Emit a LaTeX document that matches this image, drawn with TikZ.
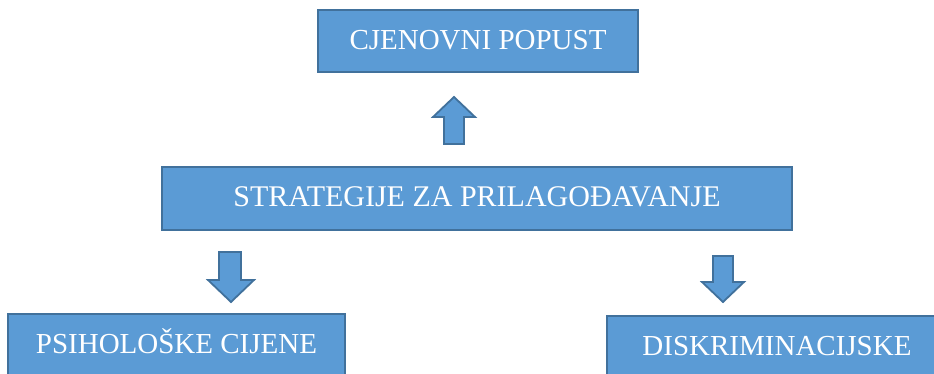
\documentclass[tikz,border=0pt]{standalone}
\usepackage{fontspec}
\setmainfont{Liberation Serif}
\definecolor{plava}{HTML}{5B9BD5}
\definecolor{rub}{HTML}{41719C}
\tikzset{
	kutija/.style={draw=rub, fill=plava, line width=2.5pt, text=white, inner sep=0pt,
		font=\fontsize{29}{34}\selectfont, text height=20.5pt, text depth=4pt},
	strelica/.style={draw=rub, fill=plava, line width=1.8pt, line join=miter}
}
\begin{document}
\begin{tikzpicture}[x=1pt, y=-1pt]
	\useasboundingbox (0,0) rectangle (934,374);
	\clip (0,0) rectangle (934,374);
	% Okviri
	\node[kutija, minimum width=320pt, minimum height=62pt] (cijena) at (478,41) {CJENOVNI POPUST};
	\node[kutija, minimum width=630pt, minimum height=63pt, font=\fontsize{30}{35}\selectfont] (strategije) at (477,198.5) {STRATEGIJE ZA PRILAGOĐAVANJE};
	\node[kutija, minimum width=337pt, minimum height=62pt] (psiholoske) at (176.5,345) {PSIHOLOŠKE CIJENE};
	\node[kutija, minimum width=340pt, minimum height=62pt] (diskrim) at (777,347) {DISKRIMINACIJSKE};
	% Strelice
	\draw[strelica] (444,144) -- (444,117) -- (433,117) -- (454,97) -- (475,117) -- (464,117) -- (464,144) -- cycle;
	\draw[strelica] (219,252) -- (219,280) -- (208,280) -- (231,302) -- (254,280) -- (241,280) -- (241,252) -- cycle;
	\draw[strelica] (713,256) -- (713,282) -- (702,282) -- (723,302) -- (744,282) -- (733,282) -- (733,256) -- cycle;
\end{tikzpicture}
\end{document}
